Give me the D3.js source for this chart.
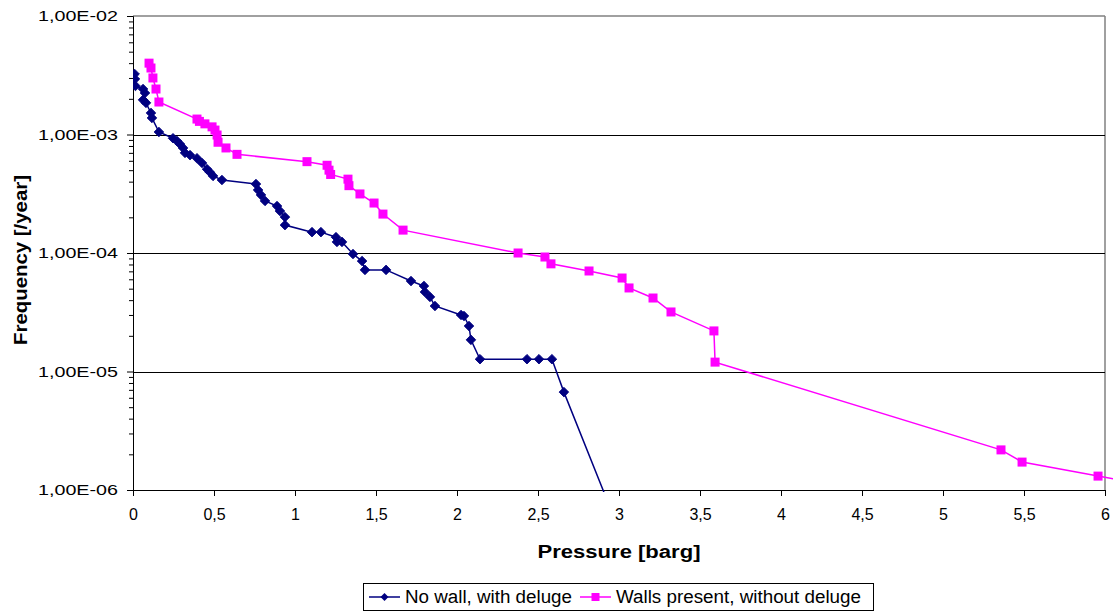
<!DOCTYPE html>
<html>
<head>
<meta charset="utf-8">
<script src="https://cdn.jsdelivr.net/npm/d3@7"></script>
<style>
  body { margin: 0; background: #fff; }
  svg { display: block; font-family: "Liberation Sans", Arial, sans-serif; }
</style>
</head>
<body>
<svg id="chart" width="1113" height="611"></svg>
<script>
// ---- data ----
const seriesNames = ["No wall, with deluge", "Walls present, without deluge"];
const noWallX = [0.01, 0.012, 0.015, 0.062, 0.074, 0.062, 0.080, 0.111, 0.117, 0.160, 0.247, 0.272, 0.290, 0.309, 0.321, 0.352, 0.395, 0.426, 0.457, 0.475, 0.494, 0.549, 0.759, 0.772, 0.790, 0.815, 0.889, 0.907, 0.938, 0.938, 1.105, 1.160, 1.253, 1.259, 1.290, 1.358, 1.414, 1.432, 1.562, 1.716, 1.796, 1.802, 1.833, 1.864, 2.025, 2.043, 2.074, 2.086, 2.142, 2.432, 2.506, 2.586, 2.660, 3.00];
const noWallY = [3.24e-3, 2.94e-3, 2.57e-3, 2.42e-3, 2.24e-3, 1.96e-3, 1.85e-3, 1.52e-3, 1.38e-3, 1.05e-3, 9.3e-4, 8.8e-4, 8.3e-4, 7.7e-4, 7.0e-4, 6.7e-4, 6.3e-4, 5.75e-4, 5.1e-4, 4.8e-4, 4.47e-4, 4.13e-4, 3.82e-4, 3.4e-4, 3.09e-4, 2.75e-4, 2.49e-4, 2.26e-4, 2.01e-4, 1.72e-4, 1.5e-4, 1.5e-4, 1.36e-4, 1.24e-4, 1.24e-4, 9.8e-5, 8.55e-5, 7.2e-5, 7.2e-5, 5.8e-5, 5.27e-5, 4.69e-5, 4.26e-5, 3.57e-5, 3.0e-5, 2.94e-5, 2.42e-5, 1.85e-5, 1.27e-5, 1.27e-5, 1.27e-5, 1.27e-5, 6.7e-6, 4.6e-7];
const wallsX = [0.099, 0.111, 0.123, 0.142, 0.160, 0.395, 0.410, 0.444, 0.488, 0.506, 0.519, 0.525, 0.574, 0.642, 1.074, 1.198, 1.210, 1.220, 1.327, 1.333, 1.401, 1.488, 1.543, 1.667, 2.377, 2.543, 2.580, 2.815, 3.019, 3.062, 3.210, 3.321, 3.586, 3.593, 5.358, 5.488, 5.957, 6.20];
const wallsY = [4.0e-3, 3.64e-3, 3.0e-3, 2.42e-3, 1.88e-3, 1.35e-3, 1.29e-3, 1.23e-3, 1.16e-3, 1.09e-3, 9.9e-4, 8.6e-4, 7.7e-4, 6.8e-4, 5.9e-4, 5.5e-4, 5.0e-4, 4.6e-4, 4.2e-4, 3.7e-4, 3.15e-4, 2.64e-4, 2.13e-4, 1.56e-4, 1.0e-4, 9.25e-5, 8.1e-5, 7.05e-5, 6.15e-5, 5.07e-5, 4.17e-5, 3.18e-5, 2.2e-5, 1.2e-5, 2.18e-6, 1.72e-6, 1.31e-6, 1.15e-6];
const xTicks = [0, 0.5, 1, 1.5, 2, 2.5, 3, 3.5, 4, 4.5, 5, 5.5, 6];
const yTicks = [1e-6, 1e-5, 1e-4, 1e-3, 1e-2];
const yTickLabels = ["1,00E-06", "1,00E-05", "1,00E-04", "1,00E-03", "1,00E-02"];
const xTitle = "Pressure [barg]";
const yTitle = "Frequency [/year]";

// ---- layout ----
const L = 133, R = 1105, T = 16, B = 490;
const FONT = "Liberation Sans, Arial, sans-serif";
const svg = d3.select("#chart");
const x = d3.scaleLinear().domain([0, 6]).range([L, R]);
const y = d3.scaleLog().domain([1e-6, 1e-2]).range([B, T]);

// plot border (gray) top & right
svg.append("line").attr("x1", L).attr("x2", R).attr("y1", T).attr("y2", T)
  .attr("stroke", "#808080").attr("stroke-width", 1.5);
svg.append("line").attr("x1", R).attr("x2", R).attr("y1", T).attr("y2", B)
  .attr("stroke", "#808080").attr("stroke-width", 1.5);

// gridlines
svg.append("g").selectAll("line").data(yTicks.slice(1, 4)).join("line")
  .attr("x1", L).attr("x2", R)
  .attr("y1", d => Math.round(y(d)) + 0.5).attr("y2", d => Math.round(y(d)) + 0.5)
  .attr("stroke", "#000").attr("stroke-width", 1);

// y axis with minor ticks
const minor = [];
for (let e = -6; e < -2; e++) for (let m = 2; m <= 9; m++) minor.push(m * Math.pow(10, e));
const yAxisG = svg.append("g").attr("transform", `translate(${L},0)`);
yAxisG.call(d3.axisLeft(y).tickValues(minor).tickSize(4).tickFormat(""))
  .call(g => g.select(".domain").remove());
yAxisG.append("g").call(d3.axisLeft(y).tickValues(yTicks).tickSize(6).tickPadding(9)
  .tickFormat((d, i) => yTickLabels[i]))
  .call(g => g.select(".domain").attr("stroke", "#000"))
  .call(g => g.selectAll("text").attr("font-size", 15).attr("fill", "#000")
    .attr("font-family", FONT).attr("textLength", 80).attr("lengthAdjust", "spacingAndGlyphs"));
yAxisG.selectAll("line").attr("stroke", "#000");

// x axis
const xAxisG = svg.append("g").attr("transform", `translate(0,${B})`)
  .call(d3.axisBottom(x).tickValues(xTicks).tickSize(6).tickPadding(13)
    .tickFormat(d => String(d).replace(".", ",")));
xAxisG.select(".domain").attr("stroke", "#000");
xAxisG.selectAll("line").attr("stroke", "#000");
xAxisG.selectAll("text").attr("font-size", 16).attr("fill", "#000").attr("font-family", FONT);

// titles
svg.append("text").attr("x", 619).attr("y", 558)
  .attr("text-anchor", "middle").attr("font-weight", "bold").attr("font-size", 18)
  .attr("textLength", 163).attr("lengthAdjust", "spacingAndGlyphs")
  .text(xTitle);
svg.append("text").attr("transform", `translate(27,${260}) rotate(-90)`)
  .attr("text-anchor", "middle").attr("font-weight", "bold").attr("font-size", 18)
  .attr("textLength", 170).attr("lengthAdjust", "spacingAndGlyphs")
  .text(yTitle);

// clip paths
const defs = svg.append("defs");
defs.append("clipPath").attr("id", "clip")
  .append("rect").attr("x", L).attr("y", T - 6).attr("width", R - L + 8).attr("height", B - T + 8);
defs.append("clipPath").attr("id", "clipLine")
  .append("rect").attr("x", L).attr("y", T).attr("width", R - L + 8).attr("height", B - T + 2);

const line = d3.line().x(d => x(d[0])).y(d => y(d[1]));
const blueData = noWallX.map((v, i) => [v, noWallY[i]]);
const pinkData = wallsX.map((v, i) => [v, wallsY[i]]);
const blue = "#000080", pink = "#FF00FF";

svg.append("g").attr("clip-path", "url(#clipLine)").append("path").datum(blueData)
  .attr("d", line).attr("fill", "none").attr("stroke", blue).attr("stroke-width", 1.5);
svg.append("g").attr("clip-path", "url(#clipLine)").append("path").datum(pinkData)
  .attr("d", line).attr("fill", "none").attr("stroke", pink).attr("stroke-width", 1.5);

const plot = svg.append("g").attr("clip-path", "url(#clip)");
const visBlue = blueData.filter(d => d[1] >= 1e-6 && d[0] <= 6);
const visPink = pinkData.filter(d => d[1] >= 1e-6 && d[0] <= 6);
plot.selectAll(".dia").data(visBlue).join("path")
  .attr("transform", d => `translate(${x(d[0])},${y(d[1])}) rotate(45)`)
  .attr("d", "M-3.4,-3.4H3.4V3.4H-3.4Z").attr("fill", blue).attr("stroke", blue).attr("stroke-width", 0.8);
plot.selectAll(".sq").data(visPink).join("rect")
  .attr("x", d => x(d[0]) - 4.5).attr("y", d => y(d[1]) - 4.5)
  .attr("width", 9).attr("height", 9).attr("fill", pink);

// legend
const lg = svg.append("g");
lg.append("rect").attr("x", 363.5).attr("y", 583.5).attr("width", 510).attr("height", 27)
  .attr("fill", "#fff").attr("stroke", "#000").attr("stroke-width", 1);
const items = [
  { name: seriesNames[0], color: blue, shape: "dia", x0: 369, tl: 167 },
  { name: seriesNames[1], color: pink, shape: "sq", x0: 580, tl: 245 }
];
items.forEach(it => {
  const cy = 597;
  lg.append("line").attr("x1", it.x0).attr("x2", it.x0 + 31).attr("y1", cy).attr("y2", cy)
    .attr("stroke", it.color).attr("stroke-width", 1.5);
  if (it.shape === "dia") {
    lg.append("path").attr("transform", `translate(${it.x0 + 15.5},${cy}) rotate(45)`)
      .attr("d", "M-2.8,-2.8H2.8V2.8H-2.8Z").attr("fill", it.color);
  } else {
    lg.append("rect").attr("x", it.x0 + 11.5).attr("y", cy - 4).attr("width", 8).attr("height", 8)
      .attr("fill", it.color);
  }
  lg.append("text").attr("x", it.x0 + 36).attr("y", cy + 6).attr("font-size", 18)
    .attr("textLength", it.tl).attr("lengthAdjust", "spacingAndGlyphs")
    .attr("fill", "#000").text(it.name);
});
</script>
</body>
</html>
